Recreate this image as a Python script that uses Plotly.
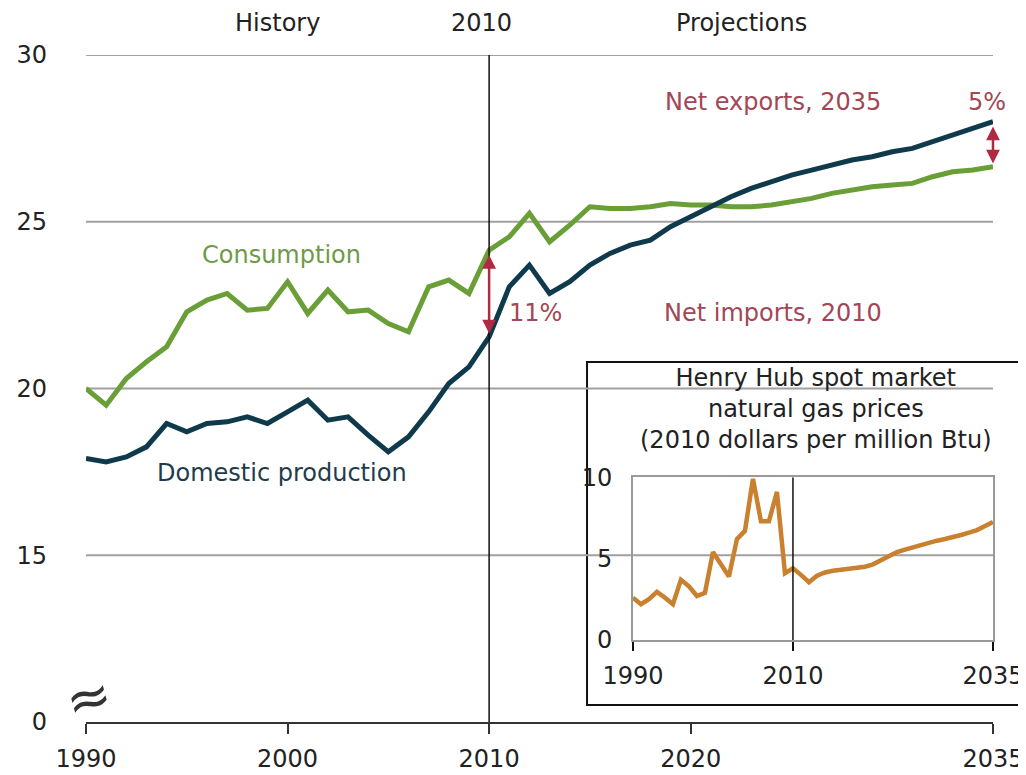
import plotly.graph_objects as go

# ---------------- data ----------------
years = list(range(1990, 2036))

consumption = [20.0, 19.5, 20.3, 20.8, 21.25, 22.3, 22.65, 22.85, 22.35, 22.4,
               23.2, 22.25, 22.95, 22.3, 22.35, 21.95, 21.7, 23.05, 23.25, 22.85,
               24.15, 24.55, 25.25, 24.4, 24.9, 25.45, 25.4, 25.4, 25.45, 25.55,
               25.5, 25.5, 25.45, 25.45, 25.5, 25.6, 25.7, 25.85, 25.95, 26.05,
               26.1, 26.15, 26.35, 26.5, 26.55, 26.65]

production = [17.9, 17.8, 17.95, 18.25, 18.95, 18.7, 18.95, 19.0, 19.15, 18.95,
              19.3, 19.65, 19.05, 19.15, 18.6, 18.1, 18.55, 19.3, 20.15, 20.65,
              21.55, 23.05, 23.7, 22.85, 23.2, 23.7, 24.05, 24.3, 24.45, 24.85,
              25.15, 25.45, 25.75, 26.0, 26.2, 26.4, 26.55, 26.7, 26.85, 26.95,
              27.1, 27.2, 27.4, 27.6, 27.8, 28.0]

henry_hub = [2.6, 2.2, 2.5, 2.95, 2.6, 2.2, 3.7, 3.3, 2.7, 2.9,
             5.4, 4.7, 3.9, 6.2, 6.7, 9.9, 7.3, 7.3, 9.1, 4.1,
             4.4, 4.0, 3.55, 3.95, 4.15, 4.25, 4.3, 4.35, 4.4, 4.5,
             4.65, 4.9, 5.15, 5.4, 5.55, 5.7, 5.85, 6.0, 6.1, 6.2,
             6.3, 6.45, 6.6, 6.75, 7.0, 7.25]

main_xticks = [1990, 2000, 2010, 2020, 2035]
# broken axis: the "0" label sits where 10 would be
main_yticks = [10, 15, 20, 25, 30]
main_yticktext = ["0", "15", "20", "25", "30"]
grid_values = [15, 20, 25, 30]

inset_xticks = [1990, 2010, 2035]
inset_yticks = [0, 5, 10]

divider_year = 2010
import_gap = (2010, consumption[20], production[20])
export_gap = (2035, production[-1], consumption[-1])

# ---------------- styles ----------------
FONT = "DejaVu Sans, Arial, sans-serif"
FS = 24
GREEN = "#6a9e36"
GREEN_TXT = "#6f9a48"
NAVY = "#0f3a4c"
NAVY_TXT = "#1e3c4b"
RED = "#b02a44"
RED_TXT = "#a34655"
ORANGE = "#c9802f"
TXT = "#222222"

fig = go.Figure()

fig.add_trace(go.Scatter(x=years, y=consumption, mode="lines",
                         line=dict(color=GREEN, width=5), xaxis="x", yaxis="y",
                         showlegend=False))
fig.add_trace(go.Scatter(x=years, y=production, mode="lines",
                         line=dict(color=NAVY, width=5), xaxis="x", yaxis="y",
                         showlegend=False))
fig.add_trace(go.Scatter(x=years, y=henry_hub, mode="lines",
                         line=dict(color=ORANGE, width=4.5), xaxis="x2", yaxis="y2",
                         showlegend=False))

shapes = []
# gridlines
for g in grid_values:
    shapes.append(dict(type="line", xref="x", yref="y", x0=1990, x1=2035, y0=g, y1=g,
                       line=dict(color="#a0a0a0", width=2), layer="below"))
# inset box (drawn over gridlines)
shapes.append(dict(type="rect", xref="paper", yref="paper",
                   x0=0.5524, x1=1.0353, y0=0.0255, y1=0.5397,
                   line=dict(color="#111111", width=2), fillcolor="white", layer="below"))
# 2010 divider (main)
shapes.append(dict(type="line", xref="x", yref="y", x0=divider_year, x1=divider_year,
                   y0=10, y1=30, line=dict(color="#111111", width=1.5)))
# 2010 divider (inset)
shapes.append(dict(type="line", xref="x2", yref="y2", x0=divider_year, x1=divider_year,
                   y0=0, y1=10, line=dict(color="#111111", width=1.5)))

annotations = []
def txt(x, y, s, color=TXT, size=FS, xref="x", yref="y", xanchor="center", **kw):
    annotations.append(dict(x=x, y=y, text=s, xref=xref, yref=yref, showarrow=False,
                            xanchor=xanchor, yanchor="middle",
                            font=dict(family=FONT, size=size, color=color), **kw))

txt(1999.5, 1.048, "History", yref="paper")
txt(2009.6, 1.048, "2010", yref="paper")
txt(2022.5, 1.048, "Projections", yref="paper")
txt(1999.7, 24.0, "Consumption", color=GREEN_TXT)
txt(1999.7, 17.47, "Domestic production", color=NAVY_TXT)
txt(2010.9, 22.25, "11%", color=RED_TXT, xanchor="left")
txt(2024.1, 28.6, "Net exports, 2035", color=RED_TXT)
txt(2024.1, 22.25, "Net imports, 2010", color=RED_TXT)
txt(2034.7, 28.6, "5%", color=RED_TXT)
txt(0.805, 0.469, "Henry Hub spot market<br>natural gas prices<br>(2010 dollars per million Btu)",
    xref="paper", yref="paper", size=24)
# axis-break symbol
txt(0.003, 0.036, "≈", xref="paper", yref="paper", size=54, color="#333333", textangle=-15)

# double-headed arrows
for (xv, ytop, ybot) in [import_gap, export_gap]:
    annotations.append(dict(x=xv, y=ybot + 0.1, ax=xv, ay=ytop - 0.1, xref="x", yref="y",
                            axref="x", ayref="y", text="", showarrow=True,
                            arrowhead=2, startarrowhead=2, arrowside="end+start",
                            arrowsize=1.1, startarrowsize=1.1,
                            arrowwidth=2.5, arrowcolor=RED))

fig.update_layout(
    width=1018, height=767, autosize=False,
    margin=dict(l=78, r=33, t=47, b=53, pad=0),
    paper_bgcolor="white", plot_bgcolor="rgba(0,0,0,0)",
    font=dict(family=FONT, size=FS, color=TXT),
    showlegend=False,
    shapes=shapes,
    annotations=annotations,
    xaxis=dict(range=[1990, 2035], tickvals=main_xticks, showgrid=False, zeroline=False,
               showline=True, linecolor="#333333", linewidth=2, automargin=False,
               ticks="outside", ticklen=10, tickwidth=2, tickcolor="#333333",
               ticklabelstandoff=4, tickfont=dict(size=FS, color=TXT)),
    yaxis=dict(range=[10, 30], tickvals=main_yticks, ticktext=main_yticktext,
               showgrid=False, zeroline=False, showline=False, ticks="", automargin=False,
               ticklabelstandoff=38, tickfont=dict(size=FS, color=TXT)),
    xaxis2=dict(domain=[0.603, 1.0], anchor="y2", range=[1990, 2035],
                tickvals=inset_xticks, showgrid=False, zeroline=False, automargin=False,
                showline=True, linecolor="#9a9a9a", linewidth=1.5, mirror=True,
                ticks="outside", ticklen=9, tickwidth=1.5, tickcolor="#111111",
                ticklabelstandoff=4, tickfont=dict(size=FS, color=TXT)),
    yaxis2=dict(domain=[0.123, 0.367], anchor="x2", range=[0, 10],
                tickvals=inset_yticks, showgrid=False, zeroline=False, automargin=False,
                showline=True, linecolor="#9a9a9a", linewidth=1.5, mirror=True,
                ticks="", ticklabelstandoff=14, tickfont=dict(size=FS, color=TXT)),
)

fig.write_html("out.html")
